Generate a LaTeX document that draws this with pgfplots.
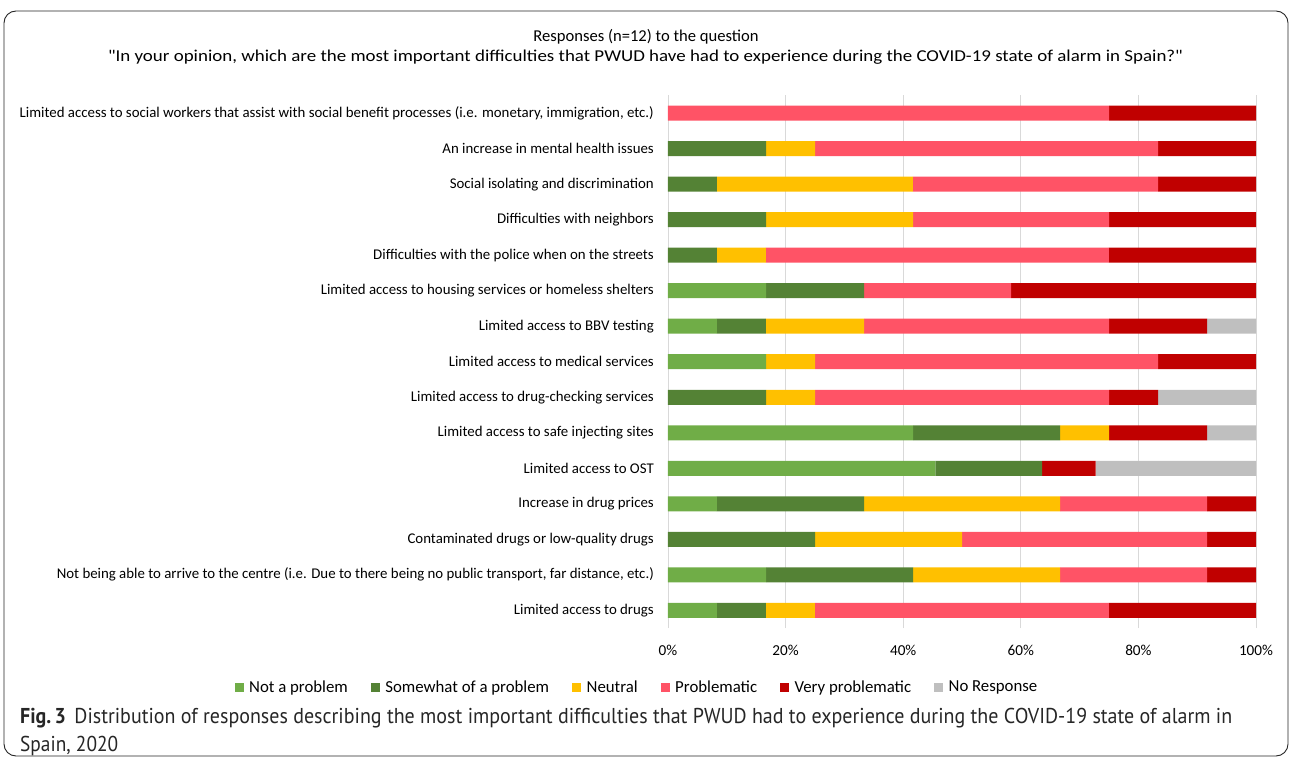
\documentclass[border=0pt]{standalone}
\usepackage{pgfplots}
\pgfplotsset{compat=1.18}
\usepackage{pgfplotstable}
\usepackage{graphicx}
\usepackage{fontspec}
\setmainfont{Carlito}
\newfontfamily\capfont{PT Sans}
\definecolor{cNP}{HTML}{70AD47}
\definecolor{cSW}{HTML}{548235}
\definecolor{cNE}{HTML}{FFC000}
\definecolor{cPR}{HTML}{FF5366}
\definecolor{cVP}{HTML}{C00000}
\definecolor{cNR}{HTML}{BFBFBF}
\pgfplotstableread{
y np sw ne pr vp nr
0 8.333 8.333 8.333 50 25 0
1 16.667 25 25 25 8.333 0
2 0 25 25 41.667 8.333 0
3 8.333 25 33.333 25 8.333 0
4 45.455 18.182 0 0 9.091 27.273
5 41.667 25 8.333 0 16.667 8.333
6 0 16.667 8.333 50 8.333 16.667
7 16.667 0 8.333 58.333 16.667 0
8 8.333 8.333 16.667 41.667 16.667 8.333
9 16.667 16.667 0 25 41.667 0
10 0 8.333 8.333 58.333 25 0
11 0 16.667 25 33.333 25 0
12 0 8.333 33.333 41.667 16.667 0
13 0 16.667 8.333 58.333 16.667 0
14 0 0 0 75 25 0
}\data
\pgfplotsset{sq/.style={fill=#1, draw=none, legend image code/.code={\fill[#1] (0pt,-4.5pt) rectangle (9pt,4.5pt);}}}
\begin{document}
\begin{tikzpicture}[x=1pt,y=1pt]
\useasboundingbox (0,0) rectangle (1290,761);
\draw[black!85, line width=0.9pt, rounded corners=12pt] (4,5) rectangle (1288,750);
\node[anchor=base, font=\fontsize{16.6}{19}\selectfont] at (646,719) {Responses (n=12) to the question};
\node[anchor=base, font=\fontsize{16.6}{19}\selectfont, inner sep=0pt] at (645.5,699) {\resizebox{1075pt}{\height}{\textquotedbl In your opinion, which are the most important difficulties that PWUD have had to experience during the COVID-19 state of alarm in Spain?\textquotedbl}};
\begin{axis}[
  at={(668pt,133pt)}, anchor=south west,
  scale only axis, width=588pt, height=532.5pt,
  xmin=0, xmax=100, ymin=-0.5, ymax=14.5,
  xbar stacked, bar width=15pt,
  axis line style={draw=none},
  xmajorgrids, grid style={draw=black!15, line width=0.9pt},
  major tick length=0pt,
  xtick={0,20,...,100},
  xticklabel={\pgfmathprintnumber{\tick}\%},
  /pgf/number format/assume math mode=true,
  xticklabel style={font=\fontsize{15.2}{17}\selectfont, inner sep=0pt, yshift=-16.5pt},
  ytick={0,...,14},
  yticklabels={Limited access to drugs,
    {Not being able to arrive to the centre (i.e. Due to there being no public transport, far distance, etc.)},
    Contaminated drugs or low-quality drugs,
    Increase in drug prices,
    Limited access to OST,
    Limited access to safe injecting sites,
    Limited access to drug-checking services,
    Limited access to medical services,
    Limited access to BBV testing\ ,
    Limited access to housing services or homeless shelters,
    Difficulties with the police when on the streets,
    Difficulties with neighbors,
    Social isolating and discrimination,
    An increase in mental health issues,
    {Limited access to social workers that assist with social benefit processes (i.e. monetary, immigration, etc.)}},
  yticklabel style={font=\fontsize{14.85}{17}\selectfont, inner sep=0pt, xshift=-14pt},
  legend columns=-1,
  legend style={draw=none, at={(-0.0527,-0.1108)}, anchor=center,
    font=\fontsize{16.8}{19}\selectfont, inner sep=0pt,
    /tikz/every even column/.append style={column sep=21pt},
    /tikz/every odd column/.append style={column sep=3.5pt}},
]
\addplot[sq=cNP] table[x=np,y=y] {\data};
\addplot[sq=cSW] table[x=sw,y=y] {\data};
\addplot[sq=cNE] table[x=ne,y=y] {\data};
\addplot[sq=cPR] table[x=pr,y=y] {\data};
\addplot[sq=cVP] table[x=vp,y=y] {\data};
\addplot[sq=cNR] table[x=nr,y=y] {\data};
\legend{Not a problem, Somewhat of a problem, Neutral, Problematic, Very problematic, No Response}
\end{axis}
\node[anchor=base west, font=\capfont\fontsize{21.5}{24}\selectfont, inner sep=0pt, text=black!85] at (20,38) {\resizebox{1212pt}{\height}{\textbf{Fig.\,3}\hspace{9pt}Distribution of responses describing the most important difficulties that PWUD had to experience during the COVID-19 state of alarm in}};
\node[anchor=base west, font=\capfont\fontsize{21.5}{24}\selectfont, inner sep=0pt, text=black!85] at (20,10) {\resizebox{98pt}{\height}{Spain, 2020}};
\end{tikzpicture}
\end{document}
